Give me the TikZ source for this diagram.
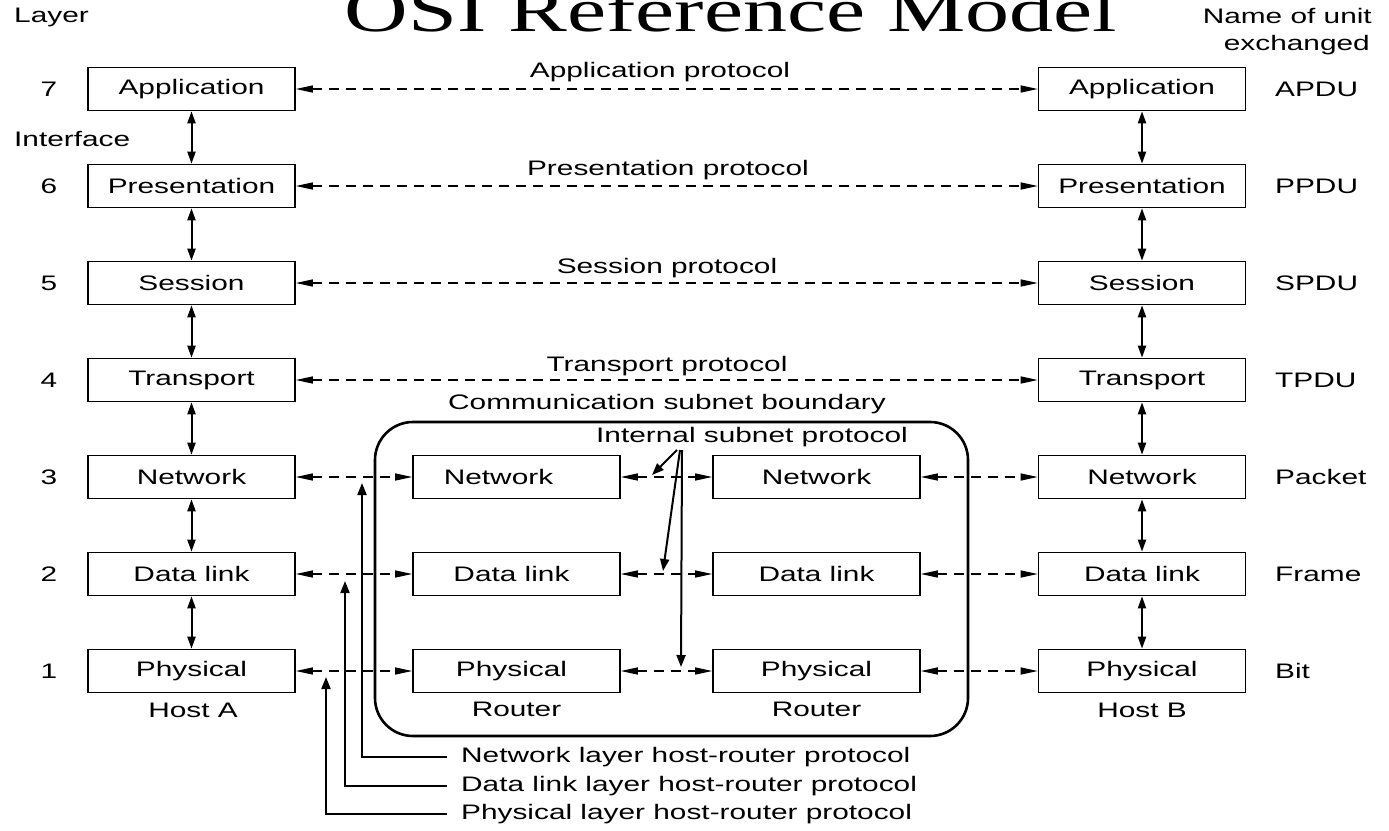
\documentclass[tikz,border=0pt]{standalone}
\usepackage{fontspec}
\setmainfont{Liberation Sans}[FakeStretch=1.42]
\newfontfamily\titlefont{Liberation Serif}[FakeStretch=1.42]
\usetikzlibrary{arrows.meta}

\begin{document}
\begin{tikzpicture}[x=1pt,y=-1pt,
  font=\fontsize{21}{25}\selectfont,
  layerbox/.style={draw, line width=1.6pt, minimum width=207pt, minimum height=43pt, inner sep=0pt},
  proto/.style={line width=1.3pt, dash pattern=on 10pt off 7pt,
    {Triangle[length=17pt,width=7pt]}-{Triangle[length=17pt,width=7pt]}},
  iface/.style={line width=2pt,
    {Triangle[length=12pt,width=8pt]}-{Triangle[length=12pt,width=8pt]}},
  pointer/.style={line width=2pt, -{Triangle[length=12pt,width=9pt]}},
  headtext/.style={inner sep=0pt},
]
\useasboundingbox (0,0) rectangle (1389,830);

% title and column headings
\node[font=\titlefont\fontsize{62}{62}\selectfont, anchor=base, inner sep=0pt] (title) at (731,31) {OSI Reference Model};
\node[headtext, anchor=base west] (layerhd) at (14,22) {Layer};
\node[headtext, anchor=base east] (unithd1) at (1372,23) {Name of unit};
\node[headtext, anchor=base east] (unithd2) at (1370,50) {exchanged};
\node[headtext, anchor=west] (interface) at (14,139) {Interface};

% the seven layers of both hosts
\foreach \n/\t/\u/\y in {7/Application/APDU/89, 6/Presentation/PPDU/186,
    5/Session/SPDU/283, 4/Transport/TPDU/380, 3/Network/Packet/477,
    2/Data link/Frame/574, 1/Physical/Bit/671} {
  \node (num\n) at (49,\y) {\n};
  \node[layerbox] (a\n) at (191.5,\y) {\t};
  \node[layerbox] (b\n) at (1142,\y) {\t};
  \node[anchor=west, inner sep=0pt] (unit\n) at (1275,\y) {\u};
}

% the lower three layers of the two routers
\foreach \n/\t/\y/\dx in {3/Network/477/-18, 2/Data link/574/-5, 1/Physical/671/-5} {
  \node[layerbox] (r\n) at (516.5,\y) {\hspace*{\dx pt}\hspace*{\dx pt}\t};
  \node[layerbox] (s\n) at (816.5,\y) {\t};
}

\node (hosta) at (193,710) {Host A};
\node (routera) at (516.5,709) {Router};
\node (routerb) at (816.5,709) {Router};
\node (hostb) at (1142,710) {Host B};

% communication subnet
\node[draw, line width=2.6pt, rounded corners=38pt, minimum width=593pt,
  minimum height=314pt, inner sep=0pt] (subnet) at (671.5,579) {};
\node (subnetlbl) at (667,404) {Communication subnet boundary};
\node (isplbl) at (752,437) {Internal subnet protocol};

% interfaces between adjacent layers
\foreach \u/\l in {7/6, 6/5, 5/4, 4/3, 3/2, 2/1} {
  \draw[iface] (a\u) -- (a\l);
  \draw[iface] (b\u) -- (b\l);
}

% peer protocols
\node (p7) at (660,72) {Application protocol};
\node (p6) at (668,170) {Presentation protocol};
\node (p5) at (667,268) {Session protocol};
\node (p4) at (667,366) {Transport protocol};
\foreach \n in {7,6,5,4} \draw[proto] (a\n) -- (b\n);
\foreach \n in {3,2,1} {
  \draw[proto] (a\n) -- (r\n);
  \draw[proto] (r\n) -- (s\n);
  \draw[proto] (s\n) -- (b\n);
}

% internal subnet protocol pointers
\coordinate (isp1) at (677,450);
\coordinate (isp2) at (680,450);
\coordinate (isp3) at (682,450);
\coordinate (ipt3) at (652,475);
\coordinate (ipt2) at (663,571);
\coordinate (ipt1) at (681,667);
\draw[pointer] (isp1) -- (ipt3);
\draw[pointer] (isp2) -- (ipt2);
\draw[pointer] (isp3) -- (ipt1);

% host-router protocols
\node[anchor=west, inner xsep=14pt] (hrnet) at (447,757) {Network layer host-router protocol};
\node[anchor=west, inner xsep=14pt] (hrdl) at (447,786) {Data link layer host-router protocol};
\node[anchor=west, inner xsep=14pt] (hrphy) at (447,814) {Physical layer host-router protocol};
\coordinate (hrnettip) at (362,483);
\coordinate (hrdltip) at (345,581);
\coordinate (hrphytip) at (326,677);
\draw[pointer] (hrnet.west) -| (hrnettip);
\draw[pointer] (hrdl.west) -| (hrdltip);
\draw[pointer] (hrphy.west) -| (hrphytip);
\end{tikzpicture}
\end{document}
